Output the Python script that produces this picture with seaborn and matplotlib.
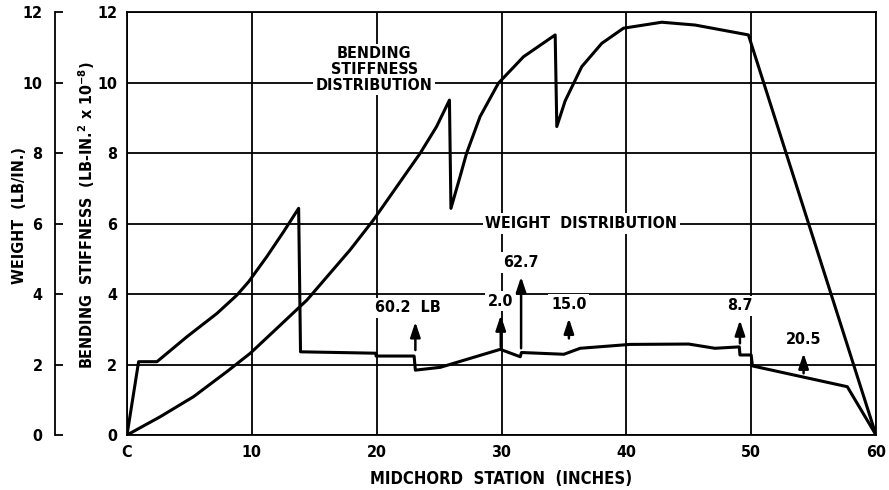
import numpy as np
import pandas as pd
import matplotlib
matplotlib.use("Agg")
import matplotlib.pyplot as plt
import seaborn as sns

# weight distribution (lb/in.) along midchord station
weight_x = [0, 0.93, 2.4, 4.81, 7.21, 8.81, 9.75, 11.2, 12.55, 13.75, 13.9, 19.95, 19.95, 23.0,
            23.1, 25.1, 29.9, 31.5, 31.6, 35.0, 36.3, 40.3, 45.0, 47.1, 49.05, 49.1, 50.0, 50.1,
            57.7, 60.0]
weight_y = [0, 2.08, 2.08, 2.79, 3.45, 3.97, 4.35, 5.06, 5.77, 6.43, 2.36, 2.32, 2.24, 2.24,
            1.84, 1.92, 2.43, 2.22, 2.34, 2.29, 2.46, 2.57, 2.58, 2.46, 2.5, 2.27, 2.27, 1.96,
            1.37, 0]

# bending stiffness (lb-in.^2 x 10^-8)
stiff_x = [0, 2.67, 5.34, 8.01, 9.88, 12.02, 14.42, 17.87, 19.74, 21.6, 23.48, 24.8, 25.83,
           25.95, 26.68, 27.2, 28.28, 29.75, 31.76, 34.3, 34.43, 35.1, 36.43, 38.03, 39.77,
           42.84, 45.51, 49.78, 60.0]
stiff_y = [0, 0.52, 1.09, 1.80, 2.32, 3.03, 3.83, 5.25, 6.1, 7.04, 7.99, 8.75, 9.5,
           6.43, 7.33, 7.99, 9.03, 9.98, 10.73, 11.35, 8.75, 9.48, 10.45, 11.11, 11.54,
           11.71, 11.63, 11.35, 0]

# concentrated loads (arrows): station, arrow base, arrow tip, label
load_x = [23.1, 29.94, 31.57, 35.4, 49.1, 54.2]
load_base = [2.41, 2.5, 2.46, 2.74, 2.6, 1.75]
load_tip = [3.21, 3.4, 4.49, 3.31, 3.26, 2.32]
load_labels = ["60.2  LB", "2.0", "62.7", "15.0", "8.7", "20.5"]

x_ticks = [0, 10, 20, 30, 40, 50, 60]
x_tick_labels = ["C", "10", "20", "30", "40", "50", "60"]
y_ticks = [0, 2, 4, 6, 8, 10, 12]

sns.set_style("white")
plt.rcParams['font.family'] = ['DejaVu Sans']
plt.rcParams['font.stretch'] = 'condensed'
plt.rcParams['font.weight'] = 'bold'
plt.rcParams['axes.labelweight'] = 'bold'
plt.rcParams['text.color'] = 'black'
plt.rcParams['xtick.color'] = 'black'
plt.rcParams['ytick.color'] = 'black'
plt.rcParams['axes.labelcolor'] = 'black'
plt.rcParams['mathtext.default'] = 'bf'

fig = plt.figure(figsize=(8.89, 4.90), dpi=100)
ax = fig.add_axes([127 / 889, 1 - 435 / 490, (876 - 127) / 889, (435 - 12) / 490])

wdf = pd.DataFrame({"station": weight_x, "value": weight_y})
sdf = pd.DataFrame({"station": stiff_x, "value": stiff_y})
sns.lineplot(data=wdf, x="station", y="value", sort=False, estimator=None,
             color="black", lw=2.2, ax=ax, zorder=3)
sns.lineplot(data=sdf, x="station", y="value", sort=False, estimator=None,
             color="black", lw=2.2, ax=ax, zorder=3)

ax.set_xlim(0, 60)
ax.set_ylim(0, 12)
ax.set_xticks(x_ticks)
ax.set_xticklabels(x_tick_labels)
ax.set_yticks(y_ticks)
ax.grid(True, color="black", lw=1.3)
ax.set_axisbelow(True)
for s in ax.spines.values():
    s.set_color("black")
    s.set_linewidth(1.3)
ax.tick_params(axis="both", length=0, labelsize=11.5, pad=7)
ax.set_xlabel("MIDCHORD  STATION  (INCHES)", fontsize=12)
ax.set_ylabel("BENDING  STIFFNESS  (LB-IN.$^{2}$ x 10$^{-8}$)", fontsize=11.5)
ax.xaxis.set_label_coords(0.5, -0.083)
ax.yaxis.set_label_coords(-0.040, 0.52)

# outer weight axis
ax2 = ax.twinx()
ax2.set_ylim(0, 12)
ax2.set_yticks(y_ticks)
ax2.yaxis.set_ticks_position("left")
ax2.yaxis.set_label_position("left")
ax2.spines["left"].set_position(("axes", (55 - 127) / (876 - 127)))
for k in ["right", "top", "bottom"]:
    ax2.spines[k].set_visible(False)
ax2.spines["left"].set_linewidth(1.3)
ax2.spines["left"].set_color("black")
ax2.tick_params(axis="y", direction="in", length=6, width=1.3, labelsize=11.5, pad=9)
ax2.set_ylabel("WEIGHT  (LB/IN.)", fontsize=11.5)
ax2.yaxis.set_label_coords(-0.1335, 0.52)

box = dict(facecolor="white", edgecolor="none", pad=2)
ax.text(19.8, 10.37, "BENDING\nSTIFFNESS\nDISTRIBUTION", ha="center", va="center",
        fontsize=11.5, linespacing=1.05, bbox=box, zorder=4)
ax.text(36.4, 6.0, "WEIGHT  DISTRIBUTION", ha="center", va="center",
        fontsize=11.5, bbox=box, zorder=4)

for xs, yb, yt, lab in zip(load_x, load_base, load_tip, load_labels):
    ax.annotate("", xy=(xs, yt), xytext=(xs, yb),
                arrowprops=dict(arrowstyle="-|>,head_length=0.9,head_width=0.3",
                                color="black", lw=1.8, shrinkA=0, shrinkB=0,
                                mutation_scale=10), zorder=5)
    lx = xs - 0.6 if "LB" in lab else xs
    ax.text(lx, yt + 0.4, lab, ha="center", va="center", fontsize=11.5,
            bbox=box, zorder=4)

fig.savefig("out.png", dpi=100)
